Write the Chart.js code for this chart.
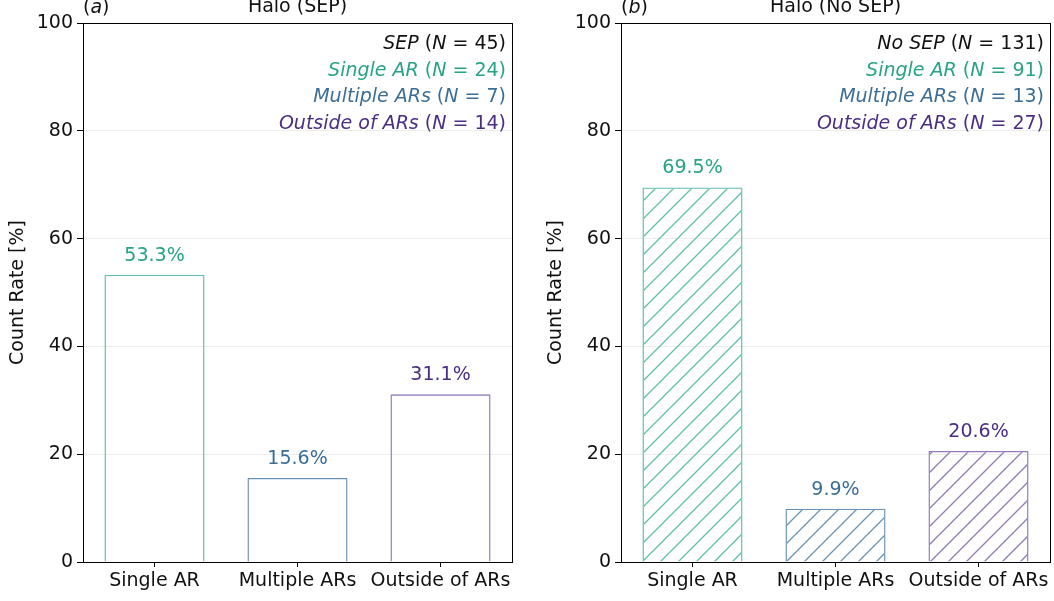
<!DOCTYPE html>
<html>
<head>
<meta charset="utf-8">
<script src="https://cdn.jsdelivr.net/npm/chart.js@4/dist/chart.umd.min.js"></script>
<style>
  html,body{margin:0;padding:0;background:#fff;}
  .panel{position:absolute;top:0;height:601px;}
  #wrapA{left:0;width:527px;}
  #wrapB{left:538px;width:516px;}
</style>
</head>
<body>
<div class="panel" id="wrapA"><canvas id="chartA"></canvas></div>
<div class="panel" id="wrapB"><canvas id="chartB"></canvas></div>
<script>
(function(){
  // data
  const categories = ['Single AR', 'Multiple ARs', 'Outside of ARs'];
  const sepRates = [53.3, 15.6, 31.1];
  const noSepRates = [69.5, 9.9, 20.6];
  const sepCounts = [24, 7, 14];
  const noSepCounts = [91, 13, 27];
  const sepTotal = 45, noSepTotal = 131;
  const yTicks = [0, 20, 40, 60, 80, 100];

  const textColors = ['#27a387', '#3b6e97', '#4b2d83'];
  const edgeColors = ['#5fbfa8', '#6b93b6', '#8f7aba'];
  const FONT = '"DejaVu Sans", sans-serif';
  const FS = 19;

  function hatch(color){
    const s = 18;
    const c = document.createElement('canvas'); c.width = s; c.height = s;
    const g = c.getContext('2d');
    g.strokeStyle = color; g.lineWidth = 1.3;
    g.beginPath();
    g.moveTo(0, s); g.lineTo(s, 0);
    g.moveTo(-s/2, s/2); g.lineTo(s/2, -s/2);
    g.moveTo(s/2, s + s/2); g.lineTo(s + s/2, s/2);
    g.stroke();
    return g.createPattern(c, 'repeat');
  }

  // segments: [text, italic]
  function drawSegments(ctx, segs, right, y, color){
    let total = 0;
    segs.forEach(s => { ctx.font = (s[1] ? 'italic ' : '') + FS + 'px ' + FONT; total += ctx.measureText(s[0]).width; });
    let x = right - total;
    ctx.fillStyle = color; ctx.textAlign = 'left'; ctx.textBaseline = 'alphabetic';
    segs.forEach(s => {
      ctx.font = (s[1] ? 'italic ' : '') + FS + 'px ' + FONT;
      ctx.fillText(s[0], x, y);
      x += ctx.measureText(s[0]).width;
    });
  }

  function decor(opts){
    return {
      id: 'decor',
      afterDatasetsDraw(chart){
        const ctx = chart.ctx, a = chart.chartArea;
        ctx.save();
        // bar value labels
        const meta = chart.getDatasetMeta(0);
        meta.data.forEach((bar, i) => {
          ctx.font = FS + 'px ' + FONT; ctx.fillStyle = textColors[i];
          ctx.textAlign = 'center'; ctx.textBaseline = 'middle';
          ctx.fillText(opts.rates[i].toFixed(1) + '%', bar.x, bar.y - 19);
        });
        // frame
        ctx.strokeStyle = '#000'; ctx.lineWidth = 1;
        ctx.strokeRect(Math.round(a.left) + 0.5, Math.round(a.top) + 0.5, Math.round(a.right - a.left), Math.round(a.bottom - a.top));
        // titles
        ctx.font = FS + 'px ' + FONT; ctx.fillStyle = '#111'; ctx.textBaseline = 'alphabetic';
        ctx.textAlign = 'center';
        ctx.fillText(opts.title, (a.left + a.right) / 2, 12);
        ctx.textAlign = 'left';
        ctx.fillText('(', a.left, 13);
        let w = ctx.measureText('(').width;
        ctx.font = 'italic ' + FS + 'px ' + FONT;
        ctx.fillText(opts.tag, a.left + w, 13);
        w += ctx.measureText(opts.tag).width;
        ctx.font = FS + 'px ' + FONT;
        ctx.fillText(')', a.left + w, 13);
        // annotations
        const right = a.right - 6;
        drawSegments(ctx, [[opts.group, true], [' (', false], ['N', true], [' = ' + opts.total + ')', false]], right, 49, '#111');
        categories.forEach((c, i) => {
          drawSegments(ctx, [[c, true], [' (', false], ['N', true], [' = ' + opts.counts[i] + ')', false]], right, 75.5 + i * 26.5, textColors[i]);
        });
        ctx.restore();
      }
    };
  }

  function makeChart(id, opts){
    const bg = opts.hatched ? edgeColors.map(hatch) : 'rgba(0,0,0,0)';
    return new Chart(document.getElementById(id), {
      type: 'bar',
      data: {
        labels: categories,
        datasets: [{
          data: opts.rates,
          backgroundColor: bg,
          borderColor: edgeColors,
          borderWidth: 1.4,
          categoryPercentage: 1,
          barPercentage: 0.7
        }]
      },
      options: {
        responsive: true,
        maintainAspectRatio: false,
        animation: false,
        layout: { padding: { top: 23, right: opts.padRight, left: 0, bottom: 0 } },
        plugins: { legend: { display: false }, tooltip: { enabled: false } },
        scales: {
          x: {
            offset: true,
            grid: { display: true, offset: false, drawOnChartArea: false, drawTicks: true, tickLength: 5, color: '#000' },
            border: { display: false },
            ticks: { color: '#111', font: { family: FONT, size: FS }, padding: 3, maxRotation: 0, autoSkip: false },
            afterFit(scale){ scale.height = 39; }
          },
          y: {
            min: 0, max: 100,
            afterBuildTicks(scale){ scale.ticks = yTicks.map(v => ({ value: v })); },
            grid: { color: 'rgba(0,0,0,0.07)', tickLength: 6, tickColor: '#000', drawTicks: true },
            border: { display: false },
            ticks: { color: '#111', font: { family: FONT, size: FS }, padding: 4 },
            title: { display: true, text: 'Count Rate [%]', color: '#111', font: { family: FONT, size: FS }, padding: { top: 7, bottom: 0 } },
            afterFit(scale){ scale.width = 83; }
          }
        }
      },
      plugins: [decor(opts)]
    });
  }

  makeChart('chartA', { rates: sepRates, counts: sepCounts, total: sepTotal, group: 'SEP', title: 'Halo (SEP)', tag: 'a', hatched: false, padRight: 15 });
  makeChart('chartB', { rates: noSepRates, counts: noSepCounts, total: noSepTotal, group: 'No SEP', title: 'Halo (No SEP)', tag: 'b', hatched: true, padRight: 4 });
})();
</script>
</body>
</html>
